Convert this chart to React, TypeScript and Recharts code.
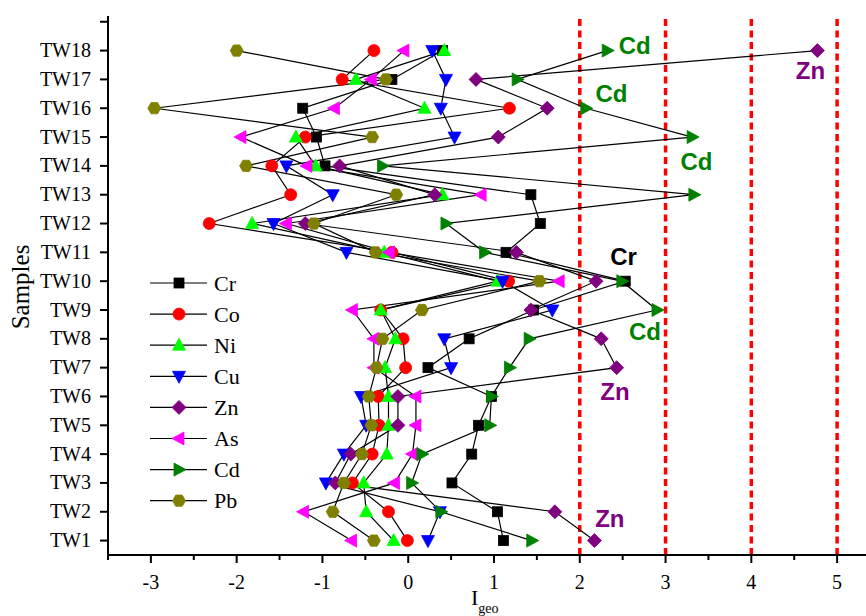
import React from 'react';
import {
  ComposedChart,
  Line,
  XAxis,
  YAxis,
  ReferenceLine,
  ReferenceDot,
  Customized,
} from 'recharts';

// ---------- data ----------
const samples = ['TW1', 'TW2', 'TW3', 'TW4', 'TW5', 'TW6', 'TW7', 'TW8', 'TW9', 'TW10', 'TW11', 'TW12', 'TW13', 'TW14', 'TW15', 'TW16', 'TW17', 'TW18'];
const sampleIdx = [1, 2, 3, 4, 5, 6, 7, 8, 9, 10, 11, 12, 13, 14, 15, 16, 17, 18];

const Cr = [1.11, 1.04, 0.51, 0.74, 0.82, 0.97, 0.23, 0.71, 1.46, 2.53, 1.14, 1.54, 1.43, -0.97, -1.07, -1.23, -0.19, 0.40];
const Co = [-0.01, -0.23, -0.65, -0.42, -0.34, -0.35, -0.03, -0.06, -0.32, 1.17, -0.19, -2.32, -1.37, -1.59, -1.20, 1.18, -0.77, -0.40];
const Ni = [-0.17, -0.49, -0.52, -0.25, -0.23, -0.23, -0.27, -0.15, -0.32, 1.04, -0.28, -1.82, 0.40, -1.08, -1.31, 0.19, -0.61, 0.42];
const Cu = [0.23, 0.37, -0.96, -0.75, -0.49, -0.55, 0.50, 0.42, 1.68, 1.10, -0.72, -1.57, -0.88, -1.42, 0.54, 0.38, 0.44, 0.28];
const Zn = [2.17, 1.71, -0.85, -0.67, -0.12, -0.12, 2.43, 2.25, 1.43, 2.19, 1.26, -1.20, 0.31, -0.80, 1.05, 1.62, 0.79, 4.77];
const As = [-0.66, -1.22, -0.16, 0.05, 0.09, 0.09, -0.40, -0.40, -0.65, 1.76, -0.22, -1.42, 0.85, -1.18, -1.95, -0.86, -0.43, -0.05];
const Cd = [1.44, 0.38, 0.04, 0.16, 0.95, 0.97, 1.18, 1.41, 2.90, 2.49, 0.89, 0.44, 3.33, -0.30, 3.31, 2.07, 1.27, 2.32];
const Pb = [-0.40, -0.88, -0.75, -0.54, -0.43, -0.46, -0.37, -0.30, 0.16, 1.53, -0.38, -1.10, -0.14, -1.89, -0.42, -2.96, -0.26, -2.00];

const seriesNames = ['Cr', 'Co', 'Ni', 'Cu', 'Zn', 'As', 'Cd', 'Pb'];
const seriesValues = [Cr, Co, Ni, Cu, Zn, As, Cd, Pb];
const seriesColors = ['#000000', '#ff0000', '#00ff00', '#0000ff', '#800080', '#ff00ff', '#008000', '#808000'];
const seriesShapes = ['square', 'circle', 'up', 'down', 'diamond', 'left', 'right', 'hexagon'];

const xTicks = [-3.5, -3, -2.5, -2, -1.5, -1, -0.5, 0, 0.5, 1, 1.5, 2, 2.5, 3, 3.5, 4, 4.5, 5, 5.5];
const yTicks = [1, 2, 3, 4, 5, 6, 7, 8, 9, 10, 11, 12, 13, 14, 15, 16, 17, 18, 19];
const thresholds = [2, 3, 4, 5];

const annotations = [
  { text: 'Cd', x: 2.64, y: 18.16, color: '#008000' },
  { text: 'Zn', x: 4.69, y: 17.30, color: '#800080' },
  { text: 'Cd', x: 2.37, y: 16.52, color: '#008000' },
  { text: 'Cd', x: 3.36, y: 14.14, color: '#008000' },
  { text: 'Cr', x: 2.51, y: 10.85, color: '#000000' },
  { text: 'Cd', x: 2.76, y: 8.25, color: '#008000' },
  { text: 'Zn', x: 2.41, y: 6.18, color: '#800080' },
  { text: 'Zn', x: 2.35, y: 1.78, color: '#800080' },
];

const data = samples.map((s, i) => {
  const row: any = { sample: s, idx: sampleIdx[i] };
  seriesNames.forEach((n, k) => {
    row[n] = seriesValues[k][i];
  });
  return row;
});

// ---------- styling helpers ----------
const SERIF = '"Liberation Serif", "Times New Roman", Times, serif';
const SANS = '"Liberation Sans", Arial, sans-serif';

function Marker({ shape, color, cx, cy }: { shape: string; color: string; cx: number; cy: number }) {
  if (cx == null || cy == null || isNaN(cx) || isNaN(cy)) return null;
  const common = { fill: color, stroke: color, strokeWidth: 0.8 };
  switch (shape) {
    case 'square':
      return <rect x={cx - 5} y={cy - 5} width={10} height={10} {...common} />;
    case 'circle':
      return <circle cx={cx} cy={cy} r={6} {...common} />;
    case 'up':
      return <polygon points={`${cx},${cy - 7} ${cx + 6.5},${cy + 5} ${cx - 6.5},${cy + 5}`} {...common} />;
    case 'down':
      return <polygon points={`${cx - 6.5},${cy - 5} ${cx + 6.5},${cy - 5} ${cx},${cy + 7}`} {...common} />;
    case 'left':
      return <polygon points={`${cx - 7},${cy} ${cx + 5},${cy - 6.5} ${cx + 5},${cy + 6.5}`} {...common} />;
    case 'right':
      return <polygon points={`${cx + 7},${cy} ${cx - 5},${cy - 6.5} ${cx - 5},${cy + 6.5}`} {...common} />;
    case 'diamond':
      return <polygon points={`${cx},${cy - 7} ${cx + 7},${cy} ${cx},${cy + 7} ${cx - 7},${cy}`} {...common} />;
    case 'hexagon': {
      const r = 6.5;
      const pts = [0, 60, 120, 180, 240, 300]
        .map((a) => {
          const rad = (a * Math.PI) / 180;
          return `${cx + r * Math.cos(rad)},${cy + r * Math.sin(rad)}`;
        })
        .join(' ');
      return <polygon points={pts} {...common} />;
    }
    default:
      return null;
  }
}

const BottomTick = (props: any) => {
  const { x, y, payload } = props;
  const v = payload.value;
  const major = Number.isInteger(v);
  return (
    <g>
      <line x1={x} x2={x} y1={y} y2={y + (major ? 8 : 5)} stroke="#000" strokeWidth={2} />
      {major && (
        <text x={x} y={y + 34} textAnchor="middle" fontSize={20} fontFamily={SERIF} fill="#000">
          {String(v)}
        </text>
      )}
    </g>
  );
};

const TopTick = (props: any) => {
  const { x, y, payload } = props;
  const v = payload.value;
  const major = Number.isInteger(v);
  return <line x1={x} x2={x} y1={y} y2={y + (major ? 9 : 5)} stroke="#000" strokeWidth={2} />;
};

const LeftTick = (props: any) => {
  const { x, y, payload } = props;
  const v = payload.value;
  const label = v <= samples.length ? samples[v - 1] : '';
  return (
    <g>
      <line x1={x - 8} x2={x} y1={y} y2={y} stroke="#000" strokeWidth={2} />
      {label && (
        <text x={x - 17} y={y + 6.5} textAnchor="end" fontSize={20} fontFamily={SERIF} fill="#000">
          {label}
        </text>
      )}
    </g>
  );
};

const Decorations = () => {
  const legendTop = 283;
  const legendStep = 31.1;
  return (
    <g>
      {seriesNames.map((n, k) => {
        const y = legendTop + k * legendStep;
        return (
          <g key={`lg-${n}`}>
            <line x1={150} x2={207} y1={y} y2={y} stroke="#000" strokeWidth={1.2} />
            <Marker shape={seriesShapes[k]} color={seriesColors[k]} cx={179} cy={y} />
            <text x={214} y={y + 7.5} fontSize={22} fontFamily={SERIF} fill="#000">
              {n}
            </text>
          </g>
        );
      })}
      <text
        transform="translate(20,287) rotate(-90)"
        textAnchor="middle"
        dominantBaseline="central"
        fontSize={25}
        fontFamily={SERIF}
        fill="#000"
      >
        Samples
      </text>
      <text x={471} y={605} fontSize={22} fontFamily={SERIF} fill="#000">
        I
        <tspan fontSize={14} dy={8}>
          geo
        </tspan>
      </text>
    </g>
  );
};

export default function App() {
  return (
    <div
      style={{
        position: 'fixed',
        left: 0,
        top: 0,
        width: 866,
        height: 616,
        overflow: 'hidden',
        background: '#fff',
      }}
    >
      <ComposedChart
        width={890}
        height={616}
        data={data}
        layout="vertical"
        margin={{ top: 16, right: 10, bottom: 0, left: 0 }}
      >
        <XAxis
          xAxisId={0}
          type="number"
          domain={[-3.5, 5.5]}
          ticks={xTicks}
          interval={0}
          tickSize={0}
          tickMargin={0}
          tick={<BottomTick />}
          axisLine={{ stroke: '#000', strokeWidth: 2 }}
          height={61}
          allowDataOverflow
        />
        <XAxis
          xAxisId="top"
          orientation="top"
          type="number"
          domain={[-3.5, 5.5]}
          ticks={xTicks}
          interval={0}
          tickSize={0}
          tickMargin={0}
          tick={<TopTick />}
          axisLine={{ stroke: '#000', strokeWidth: 2 }}
          height={0}
          allowDataOverflow
        />
        <YAxis
          type="number"
          dataKey="idx"
          domain={[0.5, 19.2]}
          ticks={yTicks}
          interval={0}
          width={108}
          tickSize={0}
          tickMargin={0}
          tick={<LeftTick />}
          axisLine={{ stroke: '#000', strokeWidth: 2 }}
          reversed
          allowDataOverflow
        />
        {thresholds.map((t) => (
          <ReferenceLine
            key={`th-${t}`}
            x={t}
            xAxisId={0}
            stroke="#ff0000"
            strokeWidth={3.5}
            strokeDasharray="7 4.5"
          />
        ))}
        {seriesNames.map((n, k) => (
          <Line
            key={n}
            xAxisId={0}
            dataKey={n}
            type="linear"
            stroke="#000"
            strokeWidth={1.2}
            isAnimationActive={false}
            dot={(p: any) => (
              <Marker
                key={`${n}-${p.index}`}
                shape={seriesShapes[k]}
                color={seriesColors[k]}
                cx={p.cx}
                cy={p.cy}
              />
            )}
            activeDot={false}
          />
        ))}
        {annotations.map((a, i) => (
          <ReferenceDot
            key={`an-${i}`}
            xAxisId={0}
            x={a.x}
            y={a.y}
            r={0}
            fill="none"
            stroke="none"
            ifOverflow="visible"
            label={{
              value: a.text,
              position: 'center',
              fill: a.color,
              fontSize: 24,
              fontWeight: 'bold',
              fontFamily: SANS,
            }}
          />
        ))}
        <Customized component={Decorations} />
      </ComposedChart>
    </div>
  );
}
